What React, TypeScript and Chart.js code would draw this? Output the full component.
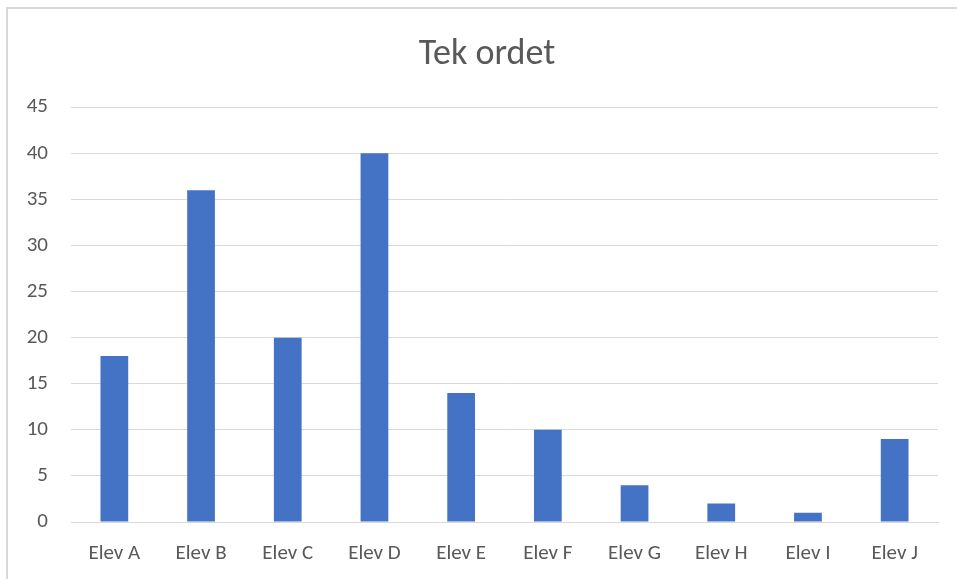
import React, { useEffect, useRef } from "react";
import { Chart, registerables } from "chart.js";

Chart.register(...registerables);

const titleText = "Tek ordet";
const categories = ["Elev A", "Elev B", "Elev C", "Elev D", "Elev E", "Elev F", "Elev G", "Elev H", "Elev I", "Elev J"];
const values = [18, 36, 20, 40, 14, 10, 4, 2, 1, 9];
const yMin = 0;
const yMax = 45;
const yStep = 5;

const FONT = "Carlito, Calibri, Lato, 'Open Sans', sans-serif";
const TEXT = "#595959";
const GRID = "#d9d9d9";
const BAR = "#4472c4";

// Centre the title over the whole chart frame (which runs past the right edge of the view)
const titleShift = {
  id: "titleShift",
  afterLayout(chart: any) {
    const t = chart.titleBlock;
    if (t) {
      t.left = 0;
      t.right = 974;
    }
  },
};

export default function App() {
  const ref = useRef<HTMLCanvasElement>(null);
  useEffect(() => {
    if (!ref.current) return;
    const chart = new Chart(ref.current, {
      type: "bar",
      data: {
        labels: categories,
        datasets: [
          {
            data: values,
            backgroundColor: BAR,
            borderWidth: 0,
            barPercentage: 0.32,
            categoryPercentage: 1,
          },
        ],
      },
      plugins: [titleShift],
      options: {
        animation: false,
        responsive: false,
        maintainAspectRatio: false,
        devicePixelRatio: 1,
        layout: { padding: { left: 0, right: 19, top: 0, bottom: 0 } },
        plugins: {
          legend: { display: false },
          tooltip: { enabled: false },
          title: {
            display: true,
            text: titleText,
            color: TEXT,
            font: { family: FONT, size: 36, weight: "normal", lineHeight: 1.2 },
            padding: { top: 33, bottom: 31 },
          },
        },
        scales: {
          x: {
            grid: { display: false },
            border: { display: true, color: GRID, width: 1 },
            ticks: { color: TEXT, font: { family: FONT, size: 21, lineHeight: 1.2 }, padding: 11 },
            afterFit: (s: any) => {
              s.height = 57;
            },
          },
          y: {
            min: yMin,
            max: yMax,
            ticks: { stepSize: yStep, color: TEXT, font: { family: FONT, size: 21 }, padding: 23 },
            grid: { color: GRID, lineWidth: 1, drawTicks: false },
            border: { display: false },
            afterFit: (s: any) => {
              s.width = 71;
            },
          },
        },
      },
    });
    return () => chart.destroy();
  }, []);
  return (
    <>
      <div
        style={{
          position: "fixed",
          left: 6,
          top: 7,
          width: 2000,
          height: 2000,
          borderLeft: `2px solid ${GRID}`,
          borderTop: `2px solid ${GRID}`,
          background: "#fff",
        }}
      />
      <canvas
        ref={ref}
        width={957}
        height={579}
        style={{ position: "fixed", left: 0, top: 0, width: 957, height: 579 }}
      />
    </>
  );
}
